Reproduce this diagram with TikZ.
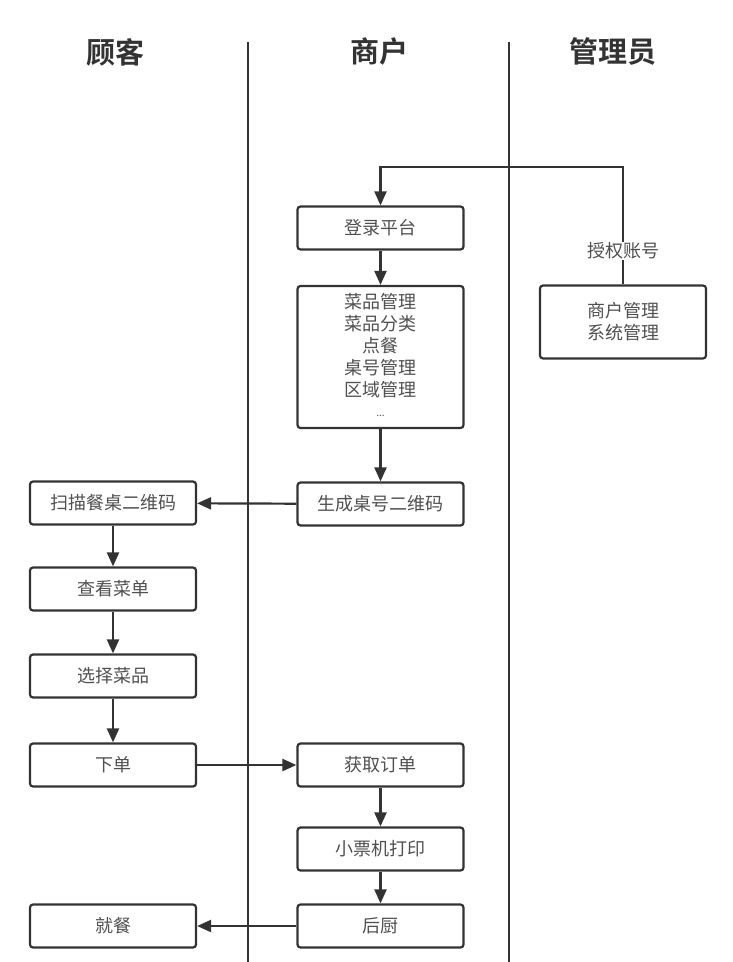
\documentclass[tikz,border=0pt]{standalone}
\usepackage{fontspec}
\newfontfamily\cjk{Noto Sans CJK SC}
\newfontfamily\cjkb{Noto Sans CJK SC Bold}
\usetikzlibrary{arrows.meta}
\definecolor{ln}{HTML}{333333}
\definecolor{tx}{HTML}{505050}
\tikzset{
 box/.style={draw=ln, line width=2.2pt, rounded corners=3pt, minimum width=166pt, minimum height=43pt, inner sep=0pt, font=\cjk\fontsize{18}{22}\selectfont, text=tx, fill=white},
 lbl/.style={font=\cjk\fontsize{18}{22}\selectfont, text=tx, inner sep=1pt},
 hdr/.style={font=\cjkb\fontsize{29}{32}\selectfont, text=ln},
 arr/.style={draw=ln, line width=2.2pt, -{Triangle[length=14pt,width=12pt]}},
 lane/.style={draw=ln, line width=2.2pt},
}
\begin{document}
\begin{tikzpicture}[x=1pt,y=-1pt]
\useasboundingbox (0,0) rectangle (732,962);
\fill[white] (0,0) rectangle (732,962);
% lanes
\draw[lane] (248,42) -- (248,962);
\draw[lane] (509,42) -- (509,962);
% headers
\node[hdr] (h1) at (115,52) {顾客};
\node[hdr] (h2) at (379,52) {商户};
\node[hdr] (h3) at (613,52) {管理员};
% merchant column
\node[box] (login) at (380.5,228) {登录平台};
\node[box, minimum height=142pt] (menu) at (380.5,357) {};
\node[lbl, align=center] (menutext) at (380.5,346) {菜品管理\\菜品分类\\点餐\\桌号管理\\区域管理};
\node[font=\cjk\fontsize{10}{12}\selectfont, text=tx, inner sep=0pt] (dots) at (380.5,416) {...};
\node[box] (gen) at (380.5,504) {生成桌号二维码};
\node[box] (get) at (380.5,765) {获取订单};
\node[box] (print) at (380.5,849) {小票机打印};
\node[box] (kitchen) at (380.5,926) {后厨};
% customer column
\node[box] (scan) at (113,503) {扫描餐桌二维码};
\node[box] (view) at (113,589) {查看菜单};
\node[box] (choose) at (113,676) {选择菜品};
\node[box] (order) at (113,765) {下单};
\node[box] (eat) at (113,926) {就餐};
% admin column
\node[box, minimum height=73pt] (adm) at (623,322) {};
\node[lbl, align=center] (admtext) at (623,322) {商户管理\\系统管理};
% connectors
\coordinate (turn) at (380.5,167);
\draw[arr] (adm.north) |- (turn) -- (login.north);
\node[lbl, fill=white] (auth) at (623,251) {授权账号};
\draw[arr] (login) -- (menu);
\draw[arr] (menu) -- (gen);
\draw[arr] (gen) -- (scan);
\draw[arr] (scan) -- (view);
\draw[arr] (view) -- (choose);
\draw[arr] (choose) -- (order);
\draw[arr] (order) -- (get);
\draw[arr] (get) -- (print);
\draw[arr] (print) -- (kitchen);
\draw[arr] (kitchen) -- (eat);
\end{tikzpicture}
\end{document}
